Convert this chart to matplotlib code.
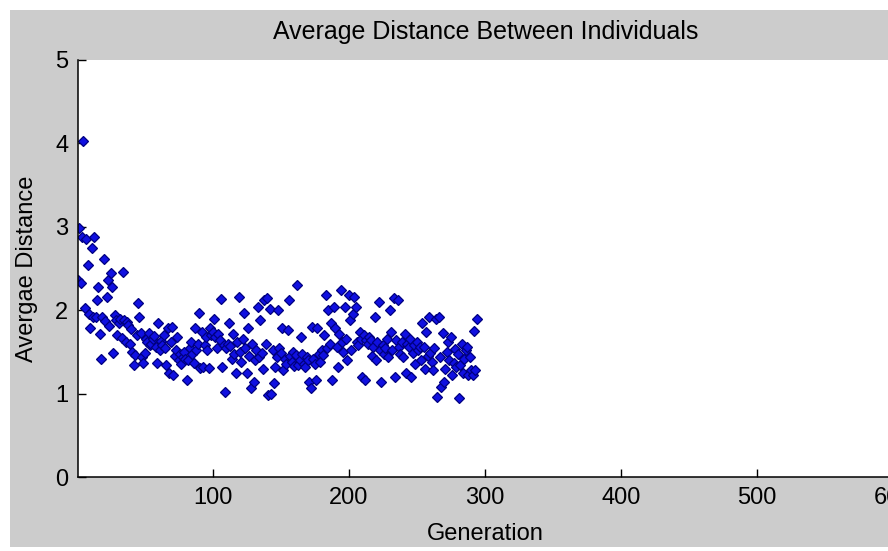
import numpy as np
import matplotlib
matplotlib.use("Agg")
import matplotlib.pyplot as plt
from matplotlib.patches import Rectangle

# average distance per generation
avg_distance = [
    2.36, 2.98, 2.33, 2.88, 4.03, 2.03, 2.85, 2.54, 1.95, 1.79,
    2.75, 1.92, 2.88, 1.92, 2.12, 2.28, 1.72, 1.41, 1.92, 2.61,
    1.87, 2.16, 2.36, 1.81, 2.45, 2.28, 1.49, 1.94, 1.88, 1.70,
    1.85, 1.90, 1.67, 2.46, 1.88, 1.62, 1.86, 1.82, 1.60, 1.78,
    1.50, 1.34, 1.46, 1.70, 2.09, 1.92, 1.73, 1.44, 1.37, 1.49,
    1.65, 1.62, 1.73, 1.58, 1.60, 1.66, 1.69, 1.56, 1.37, 1.85,
    1.52, 1.63, 1.58, 1.70, 1.55, 1.34, 1.79, 1.25, 1.62, 1.80,
    1.22, 1.45, 1.52, 1.68, 1.40, 1.48, 1.36, 1.44, 1.50, 1.42,
    1.16, 1.40, 1.55, 1.62, 1.47, 1.37, 1.79, 1.52, 1.60, 1.97,
    1.31, 1.74, 1.32, 1.58, 1.68, 1.52, 1.31, 1.79, 1.70, 1.74,
    1.90, 1.68, 1.55, 1.72, 1.64, 2.13, 1.32, 1.58, 1.02, 1.55,
    1.60, 1.85, 1.57, 1.42, 1.72, 1.48, 1.25, 1.62, 2.16, 1.50,
    1.38, 1.66, 1.97, 1.55, 1.25, 1.79, 1.45, 1.07, 1.60, 1.14,
    1.40, 1.52, 2.04, 1.44, 1.88, 1.49, 1.30, 2.12, 1.60, 2.15,
    0.98, 2.02, 1.00, 1.52, 1.13, 1.32, 1.44, 2.00, 1.55, 1.49,
    1.79, 1.28, 1.42, 1.36, 1.76, 2.12, 1.45, 1.38, 1.50, 1.33,
    1.46, 2.30, 1.34, 1.40, 1.68, 1.48, 1.36, 1.32, 1.44, 1.40,
    1.14, 1.07, 1.80, 1.42, 1.35, 1.16, 1.79, 1.48, 1.38, 1.52,
    1.46, 1.70, 2.18, 1.55, 2.00, 1.60, 1.85, 1.16, 2.04, 1.79,
    1.56, 1.32, 1.72, 2.24, 1.62, 1.50, 2.04, 1.66, 1.40, 2.18,
    1.88, 1.52, 1.95, 2.16, 2.04, 1.62, 1.58, 1.74, 1.66, 1.20,
    1.70, 1.16, 1.64, 1.60, 1.68, 1.64, 1.45, 1.56, 1.92, 1.40,
    1.62, 2.10, 1.52, 1.14, 1.58, 1.48, 1.55, 1.66, 1.44, 2.00,
    1.74, 1.52, 2.15, 1.20, 1.64, 2.12, 1.56, 1.48, 1.62, 1.44,
    1.72, 1.25, 1.60, 1.56, 1.66, 1.20, 1.49, 1.58, 1.35, 1.62,
    1.52, 1.56, 1.40, 1.85, 1.56, 1.30, 1.74, 1.45, 1.92, 1.49,
    1.38, 1.28, 1.55, 1.90, 0.96, 1.92, 1.44, 1.08, 1.73, 1.14,
    1.30, 1.50, 1.62, 1.40, 1.68, 1.22, 1.37, 1.54, 1.32, 1.48,
    0.95, 1.34, 1.60, 1.25, 1.42, 1.52, 1.56, 1.22, 1.44, 1.28,
    1.22, 1.75, 1.28, 1.90,
]
generations = np.arange(1, len(avg_distance) + 1)

x_ticks = [100, 200, 300, 400, 500, 600]
y_ticks = [0, 1, 2, 3, 4, 5]

plt.rcParams['font.family'] = ['Liberation Sans', 'DejaVu Sans']

W, H = 888, 551
fig = plt.figure(figsize=(W / 100, H / 100), dpi=100, facecolor='white')

# grey matlab figure background, kept behind the axes
bg = Rectangle((10 / W, (H - 547) / H), 1, (547 - 10) / H,
               transform=fig.transFigure, facecolor='#cccccc',
               edgecolor='none', zorder=-10)
fig.add_artist(bg)

ax = fig.add_axes([78 / W, (H - 477) / H, (893 - 78) / W, (477 - 60) / H])
ax.set_facecolor('white')

ax.plot(generations, avg_distance, linestyle='none', marker='D', markersize=5.2,
        markerfacecolor='#1010e0', markeredgecolor='#000080', markeredgewidth=0.9)

ax.set_xlim(1, 600)
ax.set_ylim(0, 5)
ax.set_xticks(x_ticks)
ax.set_yticks(y_ticks)
ax.tick_params(direction='in', length=6, width=1, labelsize=17, pad=7)
for side in ['top', 'right']:
    ax.spines[side].set_visible(False)
for side in ['left', 'bottom']:
    ax.spines[side].set_linewidth(1.1)

ax.set_title('Average Distance Between Individuals', fontsize=18, pad=15)
ax.set_xlabel('Generation', fontsize=17, labelpad=10)
ax.set_ylabel('Avergae Distance', fontsize=17, labelpad=12)

fig.savefig('out.png', dpi=100, facecolor=fig.get_facecolor())
